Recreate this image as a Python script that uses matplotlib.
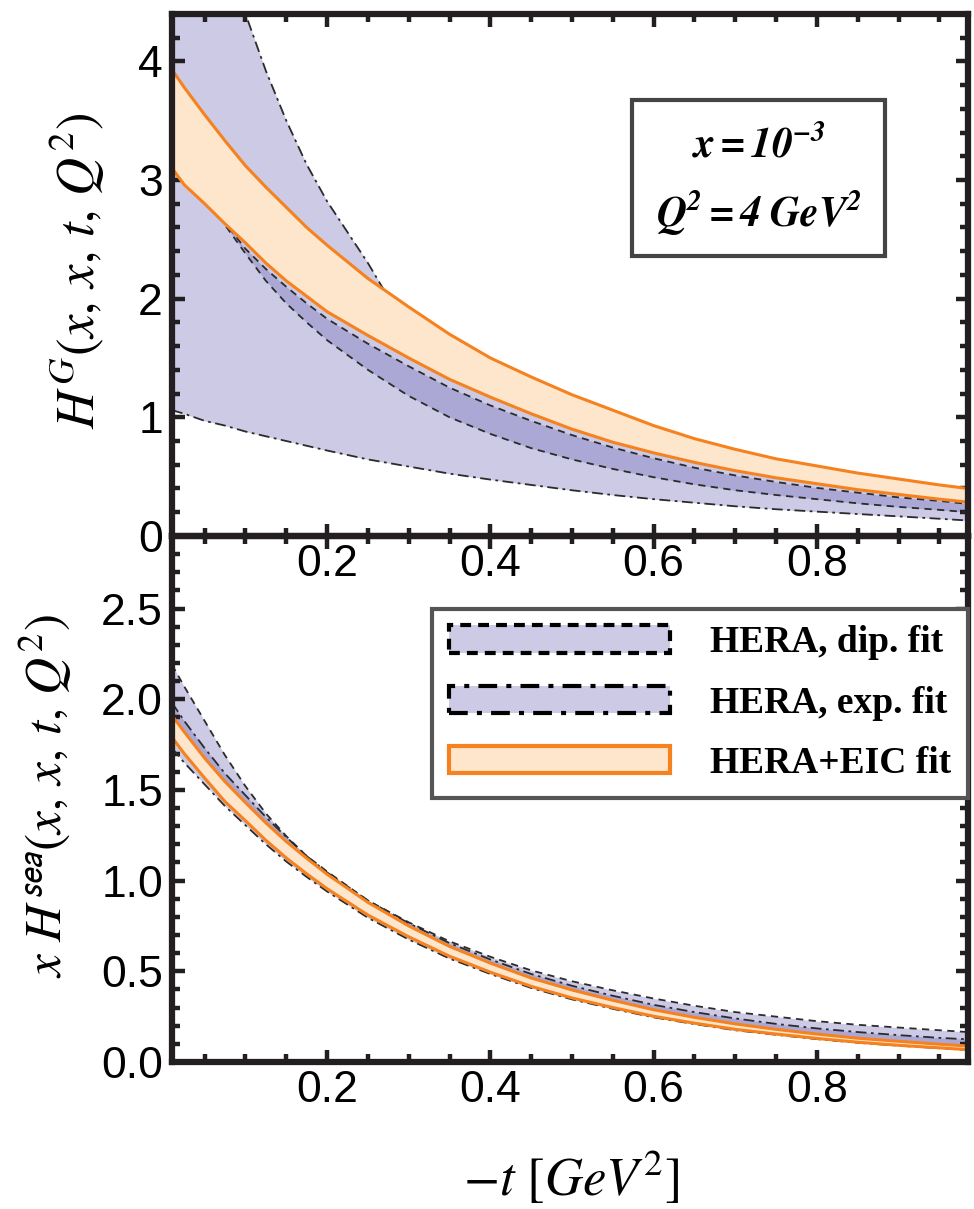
import matplotlib
matplotlib.use("Agg")
import matplotlib.pyplot as plt
from matplotlib.patches import Patch, Rectangle
from matplotlib.ticker import MultipleLocator
from matplotlib.colors import to_rgba

plt.rcParams['font.family'] = ['Liberation Sans', 'DejaVu Sans']
plt.rcParams['mathtext.fontset'] = 'stix'

# -t values the curves were read at
t = [0.01, 0.025, 0.05, 0.075, 0.1, 0.125, 0.15, 0.175, 0.2, 0.25, 0.3, 0.35, 0.4,
     0.45, 0.5, 0.55, 0.6, 0.65, 0.7, 0.75, 0.8, 0.85, 0.9, 0.95, 0.985]

# upper panel, H^G
hg_exp_hi = [6.9, 6.4, 5.6, 4.95, 4.40, 3.92, 3.50, 3.13, 2.82, 2.30, 1.72, 1.50, 1.33,
             1.18, 1.04, 0.92, 0.81, 0.72, 0.64, 0.57, 0.515, 0.46, 0.415, 0.37, 0.34]
hg_exp_lo = [1.06, 1.03, 0.97, 0.93, 0.88, 0.84, 0.80, 0.76, 0.72, 0.645, 0.585, 0.525, 0.475,
             0.43, 0.385, 0.345, 0.31, 0.28, 0.25, 0.225, 0.205, 0.185, 0.165, 0.145, 0.13]
hg_dip_hi = [3.55, 3.30, 2.95, 2.64, 2.42, 2.25, 2.10, 1.96, 1.83, 1.62, 1.43, 1.25, 1.10,
             0.97, 0.85, 0.745, 0.655, 0.575, 0.51, 0.455, 0.405, 0.365, 0.325, 0.295, 0.27]
hg_dip_lo = [3.45, 3.25, 2.90, 2.62, 2.38, 2.15, 1.96, 1.80, 1.65, 1.40, 1.18, 1.00, 0.86,
             0.74, 0.645, 0.565, 0.495, 0.435, 0.385, 0.345, 0.31, 0.275, 0.245, 0.22, 0.20]
hg_eic_hi = [3.93, 3.78, 3.55, 3.33, 3.12, 2.94, 2.77, 2.60, 2.45, 2.17, 1.93, 1.70, 1.50,
             1.34, 1.19, 1.06, 0.93, 0.82, 0.73, 0.65, 0.59, 0.53, 0.48, 0.43, 0.40]
hg_eic_lo = [3.10, 2.96, 2.80, 2.63, 2.47, 2.30, 2.15, 2.02, 1.89, 1.69, 1.50, 1.32, 1.17,
             1.03, 0.90, 0.79, 0.70, 0.62, 0.55, 0.49, 0.44, 0.39, 0.35, 0.31, 0.285]

# lower panel, x H^sea
hs_dip_hi = [2.19, 2.07, 1.88, 1.69, 1.52, 1.37, 1.245, 1.135, 1.05, 0.89, 0.77, 0.665, 0.58,
             0.505, 0.445, 0.395, 0.35, 0.31, 0.275, 0.25, 0.225, 0.205, 0.19, 0.175, 0.165]
hs_dip_lo = [1.85, 1.76, 1.62, 1.49, 1.38, 1.27, 1.17, 1.08, 0.995, 0.845, 0.72, 0.61, 0.52,
             0.44, 0.375, 0.32, 0.27, 0.23, 0.195, 0.167, 0.142, 0.12, 0.103, 0.088, 0.078]
hs_exp_hi = [1.98, 1.88, 1.73, 1.59, 1.47, 1.35, 1.24, 1.135, 1.045, 0.89, 0.765, 0.655, 0.565,
             0.485, 0.42, 0.365, 0.315, 0.275, 0.24, 0.21, 0.185, 0.165, 0.148, 0.133, 0.125]
hs_exp_lo = [1.73, 1.65, 1.53, 1.41, 1.305, 1.20, 1.105, 1.02, 0.94, 0.795, 0.675, 0.57, 0.485,
             0.408, 0.345, 0.293, 0.246, 0.209, 0.175, 0.15, 0.126, 0.106, 0.09, 0.076, 0.066]
hs_eic_hi = [1.91, 1.82, 1.675, 1.545, 1.43, 1.318, 1.215, 1.123, 1.035, 0.88, 0.75, 0.637, 0.545,
             0.463, 0.397, 0.34, 0.288, 0.246, 0.21, 0.18, 0.154, 0.131, 0.114, 0.098, 0.088]
hs_eic_lo = [1.79, 1.70, 1.565, 1.435, 1.33, 1.222, 1.125, 1.037, 0.955, 0.81, 0.69, 0.583, 0.495,
             0.417, 0.353, 0.30, 0.252, 0.214, 0.18, 0.154, 0.13, 0.109, 0.092, 0.078, 0.068]

labels = ['HERA, dip. fit', 'HERA, exp. fit', 'HERA+EIC fit']

lav = '#7570bb'
lav_a = 0.37
peach = '#fee6cc'
orange = '#f5821f'
dark = '#2b2b2b'
frame = '#231f20'
dash = (0, (4, 3))
dashdot = (0, (6, 2.5, 1.5, 2.5))

fig = plt.figure(figsize=(9.74, 12.09), dpi=100)
ax1 = fig.add_axes([0.1766, 0.5567, 0.8172, 0.4318])
ax2 = fig.add_axes([0.1766, 0.1216, 0.8172, 0.4351])
ax2.patch.set_alpha(0)


def bands(ax, exp_hi, exp_lo, dip_hi, dip_lo, eic_hi, eic_lo):
    ax.fill_between(t, exp_lo, exp_hi, color=lav, alpha=lav_a, lw=0, zorder=1)
    ax.fill_between(t, dip_lo, dip_hi, color=lav, alpha=lav_a, lw=0, zorder=1)
    for y in (exp_hi, exp_lo):
        ax.plot(t, y, color=dark, lw=1.3, ls=dashdot, zorder=2)
    for y in (dip_hi, dip_lo):
        ax.plot(t, y, color=dark, lw=1.3, ls=dash, zorder=2)
    ax.fill_between(t, eic_lo, eic_hi, color=peach, lw=0, zorder=3)
    ax.plot(t, eic_hi, color=orange, lw=2.2, zorder=4)
    ax.plot(t, eic_lo, color=orange, lw=2.2, zorder=4)


bands(ax1, hg_exp_hi, hg_exp_lo, hg_dip_hi, hg_dip_lo, hg_eic_hi, hg_eic_lo)
bands(ax2, hs_exp_hi, hs_exp_lo, hs_dip_hi, hs_dip_lo, hs_eic_hi, hs_eic_lo)

ax1.set_ylim(0, 4.4)
ax2.set_ylim(0, 2.9)
ax1.yaxis.set_major_locator(MultipleLocator(1))
ax1.yaxis.set_minor_locator(MultipleLocator(0.2))
ax2.yaxis.set_major_locator(MultipleLocator(0.5))
ax2.yaxis.set_minor_locator(MultipleLocator(0.1))
ax2.yaxis.set_major_formatter(matplotlib.ticker.FormatStrFormatter('%.1f'))

for ax in (ax1, ax2):
    ax.set_xlim(0.01, 0.985)
    ax.xaxis.set_major_locator(MultipleLocator(0.2))
    ax.xaxis.set_minor_locator(MultipleLocator(0.05))
    ax.xaxis.set_major_formatter(matplotlib.ticker.FormatStrFormatter('%.1f'))
    for s in ax.spines.values():
        s.set_linewidth(4.5)
        s.set_color(frame)
        s.set_zorder(6)
    ax.tick_params(which='both', direction='in', top=True, right=True,
                   width=3.2, color=frame, labelsize=32)
    ax.tick_params(which='major', length=9)
    ax.tick_params(which='minor', length=5.8)
    ax.tick_params(axis='x', pad=6)
    ax.tick_params(axis='y', pad=6.5)

# parameter box, upper panel
ax1.add_patch(Rectangle((0.578, 0.536), 0.318, 0.299, transform=ax1.transAxes,
                        fill=False, ec='#444444', lw=3, zorder=7))
ax1.text(0.737, 0.749, r'$\mathbfit{x=10^{-3}}$', transform=ax1.transAxes,
         ha='center', va='center', fontsize=30, zorder=8)
ax1.text(0.737, 0.621, r'$\mathbfit{Q^{2}=4\ GeV^{2}}$', transform=ax1.transAxes,
         ha='center', va='center', fontsize=30, zorder=8)

# legend, lower panel
handles = [
    Patch(facecolor=to_rgba(lav, lav_a), edgecolor='black', lw=3, ls=(0, (2.6, 1.7))),
    Patch(facecolor=to_rgba(lav, lav_a), edgecolor='black', lw=3, ls=(0, (4.5, 2.2, 1.2, 2.2))),
    Patch(facecolor=peach, edgecolor=orange, lw=3),
]
leg = ax2.legend(handles, labels, loc='upper right', bbox_to_anchor=(1.0, 0.862),
                 borderaxespad=0, prop=dict(family='Liberation Serif', weight='bold', size=27),
                 handlelength=5.9, handleheight=0.76, handletextpad=1.07,
                 labelspacing=0.67, borderpad=0.45, fancybox=False,
                 edgecolor='#555555', framealpha=1)
leg.get_frame().set_linewidth(3)
leg.set_zorder(7)

fig.text(77 / 974, 1 - 271 / 1209, r'$H^{G}(x,\,x,\,t,\,Q^{2})$', rotation=90,
         ha='center', va='center', fontsize=38)
fig.text(45 / 974, 1 - 796 / 1209, r'$x\ H^{\mathsf{sea}}(x,\,x,\,t,\,Q^{2})$', rotation=90,
         ha='center', va='center', fontsize=37)
fig.text(571 / 974, 1 - 1178 / 1209, r'$-t\ [GeV^{2}]$', ha='center', va='center',
         fontsize=38)

fig.savefig('out.png', dpi=100)
